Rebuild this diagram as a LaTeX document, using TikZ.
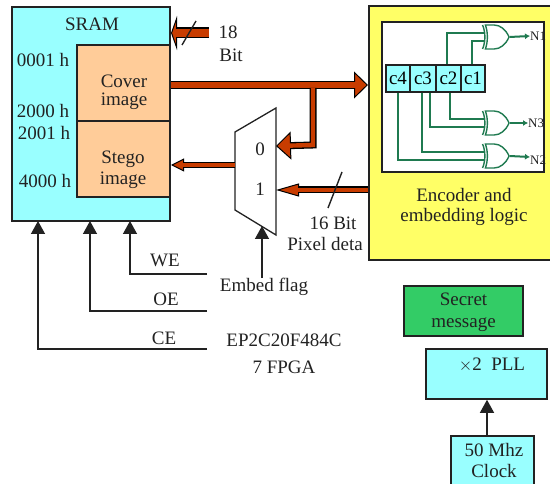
\documentclass[tikz,border=0pt]{standalone}
\usepackage{fontspec}
\setmainfont{Liberation Serif}
\usetikzlibrary{arrows.meta,calc,shapes.gates.logic.US}
\definecolor{cy}{HTML}{99FFFF}
\definecolor{org}{HTML}{FFCC99}
\definecolor{yel}{HTML}{FFFF66}
\definecolor{grn}{HTML}{33CC66}
\definecolor{wire}{HTML}{1F7A50}
\definecolor{fat}{HTML}{C83C00}
\definecolor{ink}{HTML}{222222}
\tikzset{
  box/.style={draw=ink,line width=1.6pt,inner sep=0pt,align=center},
  txt/.style={font=\fontsize{19}{19}\selectfont,text=ink,inner sep=0pt,align=center},
  reg/.style={box,fill=cy,minimum height=27pt,font=\fontsize{19}{19}\selectfont},
  wireline/.style={draw=wire,line width=1.5pt},
  xorg/.style={xor gate US,draw=wire,line width=1.4pt,transform shape,xscale=0.72,minimum width=22pt,minimum height=24pt,inner sep=0pt,logic gate inputs=nn,anchor=center},
  outlab/.style={font=\fontsize{13}{13}\selectfont,text=ink,inner sep=0pt},
  ctrl/.style={draw=ink,line width=1.4pt},
  ctrltip/.style={ctrl,-{Triangle[length=13pt,width=14pt]}},
}
% #1 shaft outer width, #2 head length, #3 head width, #4 from, #5 to
\newcommand{\fatconn}[5]{%
  \draw[black,line width=#1pt,-{Triangle[length=#2pt,width=#3pt,line width=1pt,fill=fat,sep=0pt]}] #4;
  \draw[fat,line width=#1pt-2.6pt,shorten >=#5pt] #4;
}
\begin{document}
\begin{tikzpicture}[x=1pt,y=-1pt]
\useasboundingbox (0,0) rectangle (550,484);
% SRAM
\node[box,fill=cy,minimum width=158pt,minimum height=214pt] (sram) at (91,114) {};
\node[box,fill=org,minimum width=93pt,minimum height=76pt] (cover) at (123.5,83) {};
\node[box,fill=org,minimum width=93pt,minimum height=76pt] (stego) at (123.5,159) {};
\node[txt] (tsram) at (92,24) {SRAM};
\node[txt] (a1) at (43,60) {0001 h};
\node[txt] (a2) at (43,111) {2000 h};
\node[txt] (a3) at (44,133) {2001 h};
\node[txt] (a4) at (45,181) {4000 h};
\node[txt] at (124,92.5) (tcover) {Cover\\[-1pt]image};
\node[txt] at (123,170) (tstego) {Stego\\[2pt]image};
% Encoder
\node[box,fill=yel,minimum width=190pt,minimum height=254pt] (enc) at (464,133) {};
\node[box,fill=white,minimum width=162pt,minimum height=150pt] (inner) at (463,97) {};
\node[reg,minimum width=24pt] (c4) at (398,78.5) {c4};
\node[reg,minimum width=26pt] (c3) at (423,78.5) {c3};
\node[reg,minimum width=25pt] (c2) at (448.5,78.5) {c2};
\node[reg,minimum width=24pt] (c1) at (473,78.5) {c1};
\node[xorg] (x1) at (495.5,37) {};
\node[xorg] (x3) at (495.5,123) {};
\node[xorg] (x2) at (495.5,156) {};
\coordinate (n1e) at (530,36);
\coordinate (n3e) at (528,123);
\coordinate (n2e) at (530,157);
\draw[wireline] ([xshift=-1.5pt]c2.north) |- (x1.input 1);
\draw[wireline] ([xshift=-1pt]c1.north) |- (x1.input 2);
\draw[wireline] ([xshift=1.5pt]c2.south) |- (x3.input 1);
\draw[wireline] ([xshift=7pt]c3.south) |- (x3.input 2);
\draw[wireline] ([xshift=-1pt]c3.south) |- (x2.input 1);
\draw[wireline] (c4.south) |- (x2.input 2);
\foreach \g/\e in {x1/n1e,x3/n3e,x2/n2e}
  \draw[wireline,line width=2pt,-{Latex[length=5pt,width=6pt]}] (\g.output) -- (\e);
\node[outlab,anchor=west] (n1) at (530,36) {N1};
\node[outlab,anchor=west] (n3) at (528,123) {N3};
\node[outlab,anchor=west] (n2) at (530,160) {N2};
\node[txt] (tenc) at (464,207) {Encoder and\\[1pt]embedding logic};
% Mux
\coordinate (m1) at (235,132); \coordinate (m2) at (276,108);
\coordinate (m3) at (276,235); \coordinate (m4) at (235,210);
\draw[draw=ink,line width=1.3pt,fill=white] (m1)--(m2)--(m3)--(m4)--cycle;
\node[txt] (z0) at (260,149) {0};
\node[txt] (z1) at (260,189) {1};
% fat arrows
\coordinate (a18s) at (209,33); \coordinate (a18e) at (171,33);
\coordinate (mains) at (171,85); \coordinate (maine) at (368,85);
\coordinate (brs) at (313,88); \coordinate (brc) at (313,145); \coordinate (bre) at (276,146);
\coordinate (outs) at (235,165); \coordinate (oute) at (171,165);
\coordinate (ins) at (368,190); \coordinate (ine) at (276,190);
\fatconn{11}{6}{34}{(a18s) -- (a18e)}{4}
\fatconn{8}{14}{27}{(mains) -- (maine)}{10}
\fatconn{7}{15}{28}{(brs) -- (brc) -- (bre)}{10}
\fatconn{6}{13}{13}{(outs) -- (oute)}{9}
\fatconn{7}{23}{13}{(ins) -- (ine)}{15}
\coordinate (s1a) at (182,45); \coordinate (s1b) at (196,21);
\draw[ctrl] (s1a) -- (s1b);
\coordinate (s2a) at (328,208); \coordinate (s2b) at (342,172);
\draw[ctrl] (s2a) -- (s2b);
\node[txt] (t18) at (228,32) {18};
\node[txt] (tbit) at (231,55) {Bit};
\node[txt] (t16) at (333,223) {16 Bit};
\node[txt] (tpix) at (325,244) {Pixel deta};
% Control
\node[txt] (we) at (165,260) {WE};
\node[txt] (oe) at (166,299) {OE};
\node[txt] (ce) at (164,338) {CE};
\coordinate (wee) at (207,274); \coordinate (oee) at (207,311); \coordinate (cee) at (207,349);
\coordinate (wet) at (130,221); \coordinate (oet) at (90,221); \coordinate (cet) at (38,221);
\draw[ctrltip] (wee) -| (wet);
\draw[ctrltip] (oee) -| (oet);
\draw[ctrltip] (cee) -| (cet);
\node[txt] (flag) at (264,287) {Embed flag};
\draw[ctrltip] (flag.north -| 262,0) -- (262,226);
\node[txt] (fpga1) at (284,340) {EP2C20F484C};
\node[txt] (fpga2) at (284,367) {7 FPGA};
% bottom right
\node[box,fill=grn,minimum width=119pt,minimum height=50pt] (sec) at (463.5,311) {};
\node[txt] (tsec) at (463.5,312) {Secret\\[3pt]message};
\node[box,fill=cy,minimum width=121pt,minimum height=50pt] (pll) at (486.5,374) {};
\node[txt] (tpll) at (492,365) {$\times$2~~PLL};
\node[box,fill=cy,minimum width=83pt,minimum height=50pt] (clk) at (492.5,461) {};
\node[txt] (tclk) at (494,460.5) {50 Mhz\\[2pt]Clock};
\draw[ctrltip] (clk.north -| 487,0) -- (pll.south -| 487,0);
\end{tikzpicture}
\end{document}
